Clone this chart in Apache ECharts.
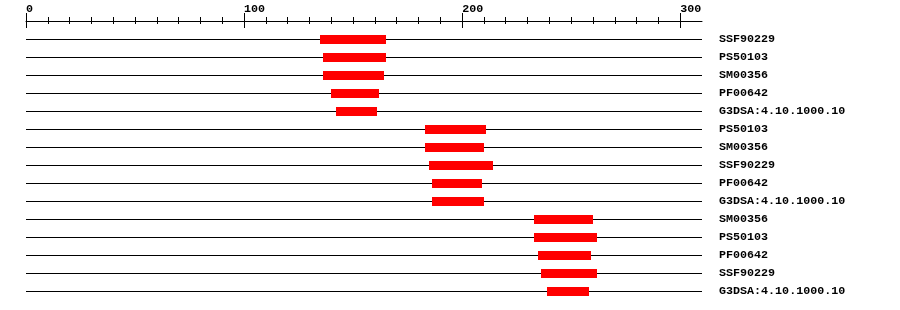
<!DOCTYPE html>
<html><head><meta charset="utf-8">
<script src="https://cdn.jsdelivr.net/npm/echarts@6/dist/echarts.min.js"></script>
<style>html,body{margin:0;padding:0;background:#fff}#c{width:900px;height:310px}</style>
</head><body><div id="c"></div>
<script>
const categories = ["SSF90229","PS50103","SM00356","PF00642","G3DSA:4.10.1000.10",
  "PS50103","SM00356","SSF90229","PF00642","G3DSA:4.10.1000.10",
  "SM00356","PS50103","PF00642","SSF90229","G3DSA:4.10.1000.10"];
const starts = [135,136,136,140,142,183,183,185,186,186,233,233,235,236,239];
const ends   = [165,165,164,162,161,211,210,214,209,210,260,262,259,262,258];
const seqLength = 310;
const majorTicks = [0,100,200,300];
const minorTicks = [0,10,20,30,40,50,60,70,80,90,100,110,120,130,140,150,160,170,180,190,200,210,220,230,240,250,260,270,280,290,300];

const FONT = 'Liberation Mono';
const rows = categories.map((c,i)=>[i, starts[i], ends[i]]);

function xAx(opts){
  return Object.assign({
    type:'value', gridIndex:0, position:'top', offset:9, min:0, max:seqLength,
    splitLine:{show:false}, axisLine:{show:false},
    axisLabel:{show:false}
  }, opts);
}

const chart = echarts.init(document.getElementById('c'), null, {renderer:'canvas'});
chart.setOption({
  animation:false,
  backgroundColor:'#fff',
  grid:{left:26, right:198, top:30, bottom:10, containLabel:false},
  xAxis:[
    xAx({axisLine:{show:true, lineStyle:{color:'#000', width:1}},
         axisTick:{show:true, inside:false, length:8, lineStyle:{color:'#000'}, customValues:majorTicks},
         axisLabel:{show:true, customValues:majorTicks, align:'left', margin:6,
                    color:'#000', fontFamily:FONT, fontWeight:'bold', fontSize:11.7}}),
    xAx({axisTick:{show:true, inside:true, length:7, lineStyle:{color:'#000'}, customValues:majorTicks}}),
    xAx({axisTick:{show:true, inside:false, length:4, lineStyle:{color:'#000'}, customValues:minorTicks}}),
    xAx({axisTick:{show:true, inside:true, length:3, lineStyle:{color:'#000'}, customValues:minorTicks}})
  ],
  yAxis:{
    type:'category', data:categories, inverse:true, position:'right',
    axisLine:{show:false}, axisTick:{show:false}, splitLine:{show:false},
    axisLabel:{margin:17, align:'left', color:'#000', fontFamily:FONT, fontWeight:'bold', fontSize:11.7}
  },
  series:[{
    type:'custom', xAxisIndex:0, yAxisIndex:0,
    data: rows,
    encode:{x:[1,2], y:0},
    renderItem:function(params, api){
      const row = api.value(0);
      const p0 = api.coord([0, row]);
      const pL = api.coord([seqLength, row]);
      const ps = api.coord([api.value(1), row]);
      const pe = api.coord([api.value(2), row]);
      const yc = Math.round(p0[1]);
      return {type:'group', children:[
        {type:'line', shape:{x1:p0[0], y1:yc+0.5, x2:pL[0], y2:yc+0.5}, style:{stroke:'#000', lineWidth:1}},
        {type:'rect', shape:{x:Math.round(ps[0]), y:yc-4, width:Math.round(pe[0])-Math.round(ps[0]), height:9}, style:{fill:'#ff0000'}}
      ]};
    }
  }]
});
</script></body></html>
